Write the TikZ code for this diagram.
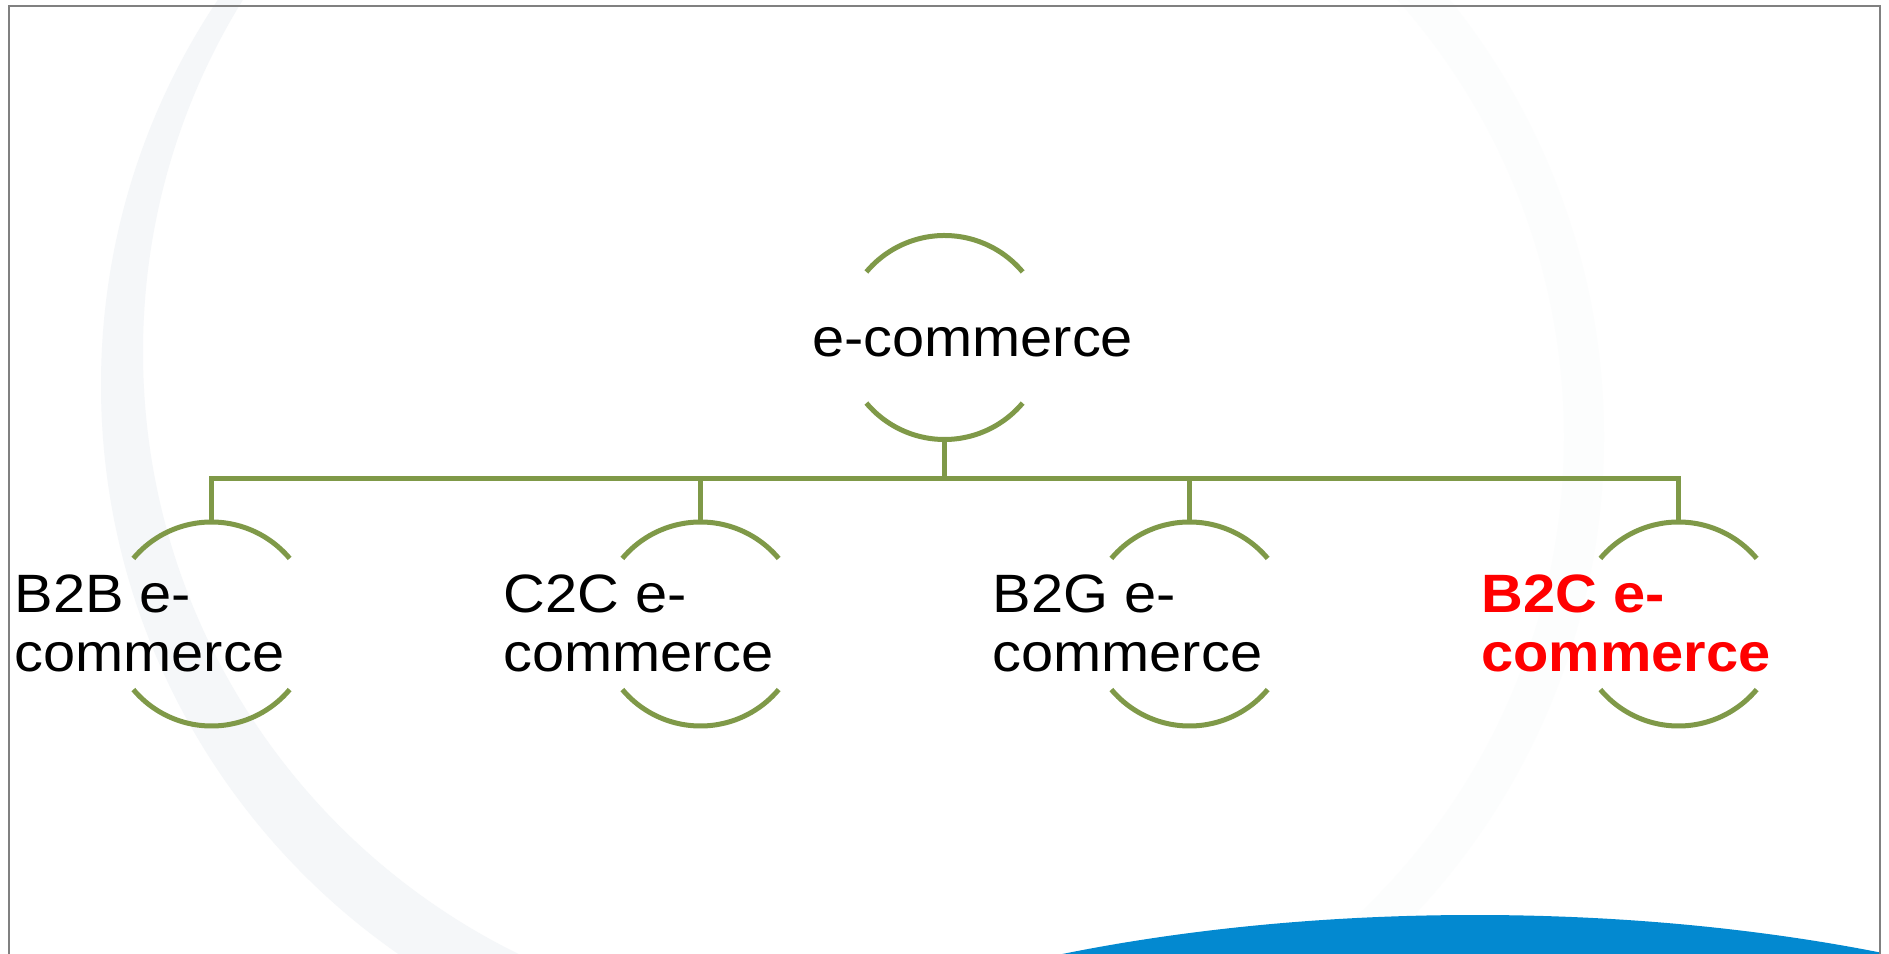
\documentclass[tikz,border=0pt]{standalone}
\usepackage{fontspec}
\setmainfont{Liberation Sans}[FakeStretch=1.07]
\usetikzlibrary{calc}

\definecolor{branch}{RGB}{127,153,72}
\definecolor{framegray}{RGB}{128,128,128}
\definecolor{ringgray}{RGB}{245,247,249}
\definecolor{ringfaint}{RGB}{252,253,253}
\definecolor{wave}{RGB}{3,137,208}
\definecolor{hot}{RGB}{255,0,0}

\begin{document}
\begin{tikzpicture}[x=1pt,y=1pt,
  hub/.style={circle, minimum size=204pt, inner sep=0pt, outer sep=0pt, draw=none},
  rim/.style={draw=branch, line width=5pt},
  link/.style={draw=branch, line width=5pt, line join=miter},
  leaftext/.style={anchor=base west, inner sep=0pt, outer sep=0pt, align=left,
                   font=\fontsize{54}{59}\selectfont}
]
\clip (0,0) rectangle (1889,953);
\fill[white] (0,0) rectangle (1889,953);

% pale background crescent on the left
\begin{scope}
  \clip (0,0) rectangle (800,953);
  \fill[ringgray, even odd rule] (794,568) circle[radius=693] (813,601) circle[radius=670];
\end{scope}
% very faint arc on the right
\draw[ringfaint, line width=40pt] (907,516) ++(-55:677) arc[start angle=-55, end angle=45, radius=677];

% blue wave at the bottom
\begin{scope}
  \clip (0,0) rectangle (1879,953);
  \fill[wave] (1475,-313) ellipse[x radius=900, y radius=351];
\end{scope}

% slide frame
\draw[framegray, line width=2pt] (9,-5) -- (9,947) -- (1880,947) -- (1880,-5);

% hierarchy nodes
\node[hub] (root) at (944.5,615.5) {};
\node[hub] (b2b) at (211.5,329) {};
\node[hub] (c2c) at (700.5,329) {};
\node[hub] (b2g) at (1189.5,329) {};
\node[hub] (b2c) at (1678.5,329) {};

\foreach \n in {root,b2b,c2c,b2g,b2c}{
  \draw[rim] (\n.40) arc[start angle=40, end angle=140, radius=102];
  \draw[rim] (\n.220) arc[start angle=220, end angle=320, radius=102];
}

% connectors
\coordinate (fork) at ($(root.south)+(0,-39.5)$);
\draw[link] (root.south) -- (fork);
\foreach \n in {b2b,c2c,b2g,b2c}{
  \draw[link] (fork) -| (\n.north);
}

% texts
\node[leaftext] (troot) at ($(root)+(-132.5,-19.5)$) {e-commerce};
\node[leaftext] (tb2b) at ($(b2b)+(-197,-48)$) {B2B e-\\commerce};
\node[leaftext] (tc2c) at ($(c2c)+(-197,-48)$) {C2C e-\\commerce};
\node[leaftext] (tb2g) at ($(b2g)+(-197,-48)$) {B2G e-\\commerce};
\node[leaftext, text=hot, font=\fontsize{54}{59}\selectfont\bfseries] (tb2c) at ($(b2c)+(-197,-48)$) {B2C e-\\commerce};
\end{tikzpicture}
\end{document}
